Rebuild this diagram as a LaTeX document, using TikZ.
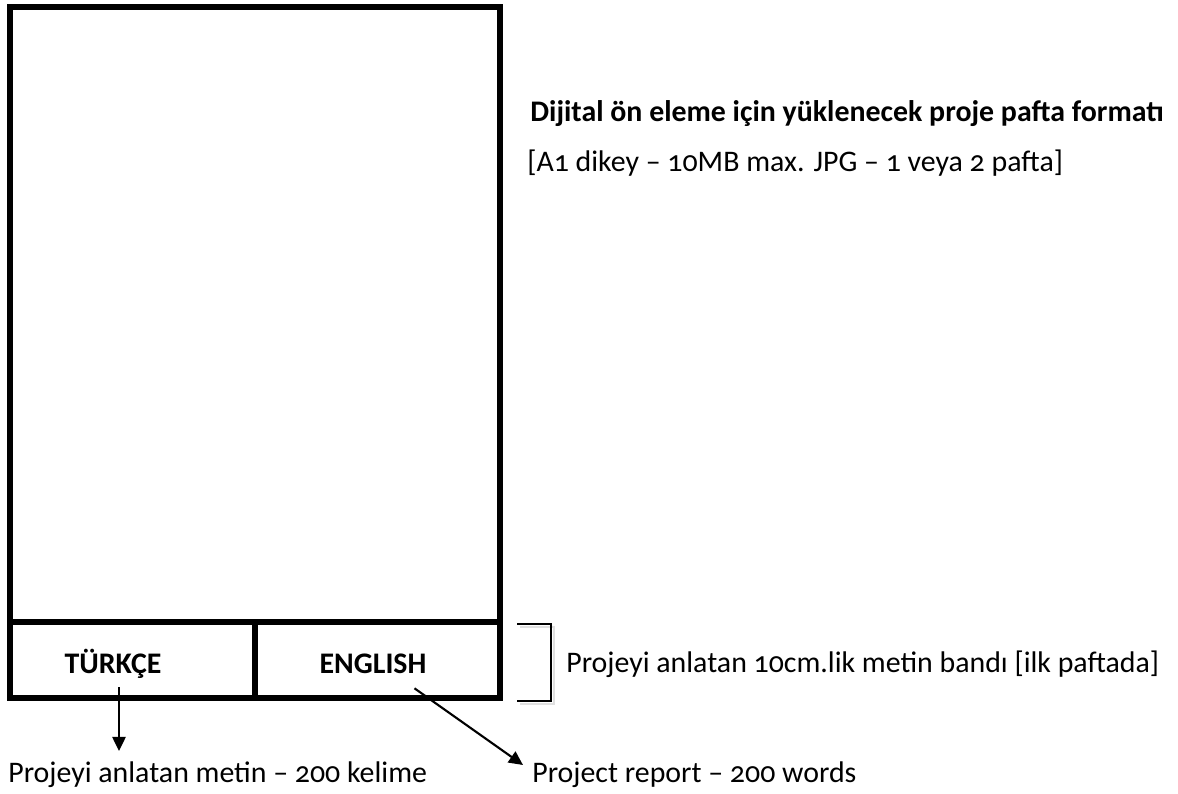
\documentclass[tikz,border=0pt]{standalone}
\usepackage{fontspec}
\setmainfont{Carlito}[Numbers=OldStyle]
\usetikzlibrary{
    arrows.meta,
    positioning
}
\tikzstyle{arrow} = [
    line width=1.2pt,
    -{Triangle[length=8pt,width=7.5pt]}
]
\tikzstyle{frame} = [
    line width=3pt
]
\tikzstyle{label} = [
    inner sep=0pt,
    font=\fontsize{17}{20}\selectfont
]
\tikzstyle{bold label} = [
    label,
    font=\fontsize{17}{20}\selectfont\bfseries
]

\begin{document}
\begin{tikzpicture}[x=0.02cm, y=-0.02cm]
% Rahmen
\useasboundingbox (0,0) rectangle (1178,794);

% Pafta
\draw[frame] (10,7) rectangle (500,698);
\draw[frame] (10,622) -- (500,622);
\draw[frame] (255,622) -- (255,698);

% Metin bandı
\node[bold label] (trk) at (113,664) {TÜRKÇE};
\node[bold label] (en) at (373,664) {ENGLISH};

% Köşeli ayraç (gölgeli)
\draw[line width=1.2pt, black!12, line join=miter] (520,627) -- (554,627) -- (554,704) -- (520,704);
\draw[line width=1.2pt, line join=miter] (517,624) -- (551,624) -- (551,701) -- (517,701);
\node[label, anchor=west] (band) at (566,664) {Projeyi anlatan 10cm.lik metin bandı [ilk paftada]};

% Başlık
\node[bold label, anchor=west] (title) at (530,114) {Dijital ön eleme için yüklenecek proje pafta formatı};
\node[label, anchor=west] (sub) at (527,163) {[A1 dikey – 10MB max. JPG – 1 veya 2 pafta]};

% Alt açıklamalar
\node[label, anchor=west] (tm) at (8,775) {Projeyi anlatan metin – 200 kelime};
\node[label, anchor=west] (rep) at (532,775) {Project report – 200 words};

% Oklar
\coordinate (trk tip) at (119,751);
\coordinate (en tip) at (523,765);
\draw[arrow] (trk.south -| trk tip) ++(0,8) -- (trk tip);
\draw[arrow] ([xshift=-7pt, yshift=-8pt]en.south east) -- (en tip);
\end{tikzpicture}
\end{document}
